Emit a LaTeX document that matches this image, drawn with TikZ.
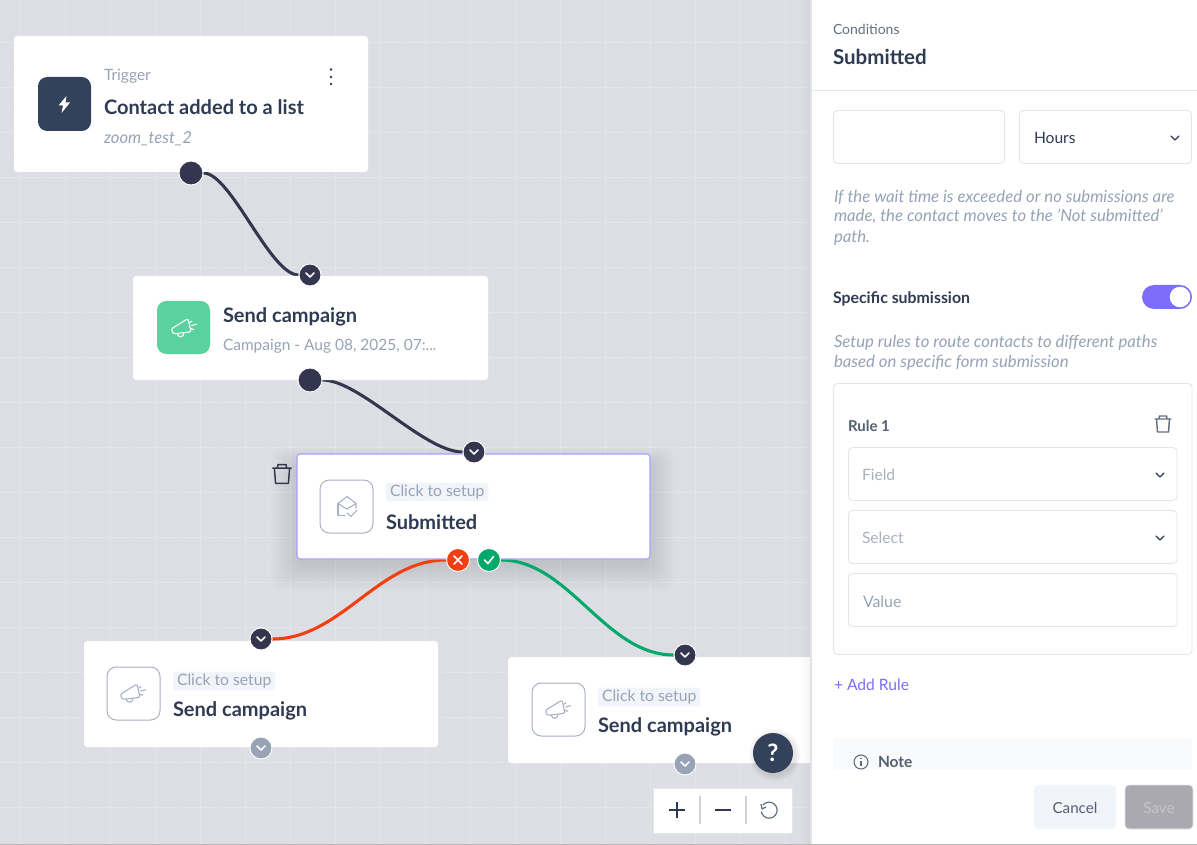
\documentclass[tikz,border=0pt]{standalone}
\usepackage{fontspec}
\setmainfont{Lato}
\usetikzlibrary{calc}
\definecolor{bgc}{HTML}{DDDEE3}
\definecolor{gridmaj}{HTML}{E4E5E9}
\definecolor{gridmin}{HTML}{DFE0E5}
\definecolor{portc}{HTML}{343650}
\definecolor{inkc}{HTML}{2F3B52}
\definecolor{slatec}{HTML}{33415A}
\definecolor{greyt}{HTML}{97A3B6}
\definecolor{midt}{HTML}{64707F}
\definecolor{mint}{HTML}{5AD2A0}
\definecolor{redc}{HTML}{F23F12}
\definecolor{greenc}{HTML}{00A86B}
\definecolor{purp}{HTML}{7C6DFB}
\definecolor{purpb}{HTML}{A79FFD}
\definecolor{chip}{HTML}{F1F4F8}
\definecolor{lineb}{HTML}{E2E6EC}
\definecolor{portg}{HTML}{98A4B6}
\definecolor{iconb}{HTML}{A6B1C3}
\definecolor{savef}{HTML}{ABA9B0}
\definecolor{savet}{HTML}{C6C5CB}
\pgfdeclarelayer{under}
\pgfdeclarelayer{links}
\pgfsetlayers{under,links,main}
\tikzset{
 x=0.75pt,y=-0.75pt,
 card/.style={fill=white,rounded corners=2.5pt,draw=none},
 panelbox/.style={fill=white,draw=lineb,line width=0.7pt,rounded corners=3pt},
 iconbox/.style={draw=iconb,line width=0.75pt,fill=white,rounded corners=7pt},
 port/.style={circle,draw=white,line width=0.7pt,fill=portc,minimum size=#1*0.75pt,inner sep=0pt},
 gport/.style={circle,draw=white,line width=0.7pt,fill=portg,minimum size=22*0.75pt,inner sep=0pt},
 chev/.style={draw=white,line width=1.2pt,line cap=round,line join=round},
 chevd/.style={draw=inkc,line width=0.9pt,line cap=round,line join=round},
 link/.style={line width=2.3pt,draw=portc},
 txt/.style={anchor=base west,inner sep=0pt,outer sep=0pt},
 ctxt/.style={anchor=base,inner sep=0pt,outer sep=0pt},
 chiplabel/.style={txt,text=greyt,font=\fontsize{11.8}{13}\selectfont,fill=chip,rounded corners=2pt,text depth=3.4pt,text height=9.4pt,inner xsep=3pt,inner ysep=0.6pt},
 cardtitle/.style={txt,text=inkc,font=\fontsize{15}{18}\bfseries\selectfont},
 hint/.style={txt,text=greyt,font=\fontsize{12.55}{13}\itshape\selectfont},
 icl/.style={draw=#1,line width=0.8pt,line cap=round,line join=round,fill=none},
 megaphone/.pic={
  \draw[icl=#1] (-11.3,0.5) -- (2.5,-8) .. controls (3.5,-8.6) and (4,-8.2) .. (4.3,-7.6) -- (6.8,3) .. controls (7,4) and (6.5,4.5) .. (5.5,4.5) -- (-9,6.2) .. controls (-12,6.4) and (-13,1.5) .. (-11.3,0.5);
  \draw[icl=#1] (-7,6) .. controls (-6,10.5) and (0,10.5) .. (0,5.2);
  \draw[icl=#1] (6,-5) -- (8,-6.3) (7.7,-2) -- (12.7,-3.3) (7,1) -- (9.7,2.3);
 },
 trashcan/.pic={
  \draw[icl=#1,line width=1.1pt] (-8,-5) -- (8,-5) (-6.5,-5) -- (-5.5,8) -- (5.5,8) -- (6.5,-5) (-4,-5) -- (-3.5,-8) -- (3.5,-8) -- (4,-5);
 },
}
\begin{document}
\begin{tikzpicture}
\useasboundingbox (0,0) rectangle (1197,845);
\begin{pgfonlayer}{under}
 \fill[bgc] (0,0) rectangle (1197,845);
 \foreach \i in {0,...,38} {
  \draw[gridmin,line width=0.4pt] ({-2.5+22.5*\i},0) -- ({-2.5+22.5*\i},845);
  \draw[gridmin,line width=0.4pt] (0,{-3+22.5*\i}) -- (811,{-3+22.5*\i});
 }
 \foreach \i in {0,...,19} {
  \draw[gridmaj,line width=0.6pt] ({20+45*\i},0) -- ({20+45*\i},845);
  \draw[gridmaj,line width=0.6pt] (0,{-3+45*\i}) -- (811,{-3+45*\i});
 }
 % shadow of the selected card
 \foreach \k in {1,...,28} {
  \fill[black,opacity=0.0045,rounded corners=9pt] ({299-\k},{464-0.6*\k}) rectangle ({648+\k},{563+\k});
 }
\end{pgfonlayer}

% cards
\path[card] (14,36) rectangle (368,172);
\path[card] (133,276) rectangle (488,380);
\path[fill=white,draw=purpb,line width=0.8pt,rounded corners=2.5pt] (297,454) rectangle (650,559);
\path[card] (84,641) rectangle (438,747);
\path[card] (508,657) rectangle (830,763);

% icon squares
\path[fill=slatec,rounded corners=7pt] (38,77) rectangle (91,131);
\fill[white] (66.5,96) -- (58.5,105.5) -- (63,105.5) -- (61.5,113) -- (70,102.5) -- (65.5,102.5) -- cycle;
\path[fill=mint,rounded corners=7pt] (157,301) rectangle (210,354);
\pic at (184,327.5) {megaphone=white};
\path[iconbox] (320,480) rectangle (373,533);
\draw[icl=iconb] (338,503.5) -- (347,496.5) -- (356,503.5) -- (356,508);
\draw[icl=iconb] (338,503.5) -- (347,509) -- (356,503.5);
\draw[icl=iconb] (338,503.5) -- (338,515.5) -- (345,515.5);
\draw[icl=iconb] (347,513) -- (351,516.5) -- (357,510);
\path[iconbox] (107,667) rectangle (160,720);
\pic at (133,693) {megaphone=iconb};
\path[iconbox] (532,683) rectangle (585,736);
\pic at (558,709) {megaphone=iconb};

% card text
\node[txt,text=greyt,font=\fontsize{11.7}{13}\selectfont] (t1) at (104,81) {Trigger};
\node[cardtitle] (t2) at (104,114.5) {Contact added to a list};
\node[txt,text=greyt,font=\fontsize{12.5}{13}\itshape\selectfont] (t3) at (104,144) {zoom\_test\_2};
\fill[portc] (331,69.5) circle (1.3) (331,77) circle (1.3) (331,84) circle (1.3);
\node[cardtitle] (s1) at (223,322) {Send campaign};
\node[txt,text=greyt,font=\fontsize{11.6}{13}\selectfont] (s2) at (223,350) {Campaign - Aug 08, 2025, 07:...};
\node[chiplabel] (c1) at (386,496) {Click to setup};
\node[cardtitle] (c2) at (386,529) {Submitted};
\node[chiplabel] (l1) at (173,685) {Click to setup};
\node[cardtitle] (l2) at (173,716) {Send campaign};
\node[chiplabel] (r1) at (598,701) {Click to setup};
\node[cardtitle] (r2) at (598,732) {Send campaign};
\pic[scale=1.17] at (282,474) {trashcan=portc};

% ports
\node[port=24] (p1) at (191,173) {};
\node[port=22] (p2) at (310,275) {};
\node[port=24] (p3) at (310,380) {};
\node[port=22] (p4) at (474,452) {};
\node[port=23,fill=redc] (pno) at (458,560) {};
\node[port=23,fill=greenc] (pyes) at (489,560) {};
\node[port=22] (p5) at (261,639) {};
\node[gport] (p6) at (261,748) {};
\node[port=22] (p7) at (685,655) {};
\node[gport] (p8) at (685,764) {};
\foreach \n in {p2,p4,p5,p6,p7,p8} \draw[chev] (\n) +(-4,-2) -- +(0,2) -- +(4,-2);
\draw[chev] (pno) +(-4,-4) -- +(4,4) +(4,-4) -- +(-4,4);
\draw[chev] (pyes) +(-4.5,0) -- +(-1,3.5) -- +(4.5,-3.5);

% connectors
\begin{pgfonlayer}{links}
 \draw[link] (p1) .. controls ($(p1)+(40,0)$) and ($(p2)+(-40,0)$) .. (p2);
 \draw[link] (p3) .. controls ($(p3)+(50,0)$) and ($(p4)+(-50,0)$) .. (p4);
 \draw[link,draw=redc] (pno) .. controls ($(pno)+(-80,0)$) and ($(p5)+(80,0)$) .. (p5);
 \draw[link,draw=greenc] (pyes) .. controls ($(pyes)+(80,0)$) and ($(p7)+(-80,0)$) .. (p7);
\end{pgfonlayer}

% help and zoom
\foreach \k in {1,...,5} \fill[black,opacity=0.02] (775,755) circle ({20+1.2*\k});
\node[circle,fill=slatec,minimum size=30pt,inner sep=0pt,text=white,font=\fontsize{18}{20}\bfseries\selectfont] (help) at (773,753) {?};
\path[fill=white,draw=lineb,line width=0.7pt] (653.5,788) rectangle (792.5,833);
\draw[chevd,line width=1pt,line cap=butt] (669,810) -- (685,810) (677,802) -- (677,818);
\draw[chevd,line width=1pt,line cap=butt] (715,810) -- (731,810);
\draw[draw=lineb!80!gray,line width=0.8pt] (700,796) -- (700,824) (746,796) -- (746,824);
\draw[draw=midt,line width=0.9pt] (763,805) arc[start angle=-140,end angle=170,radius=8];
\draw[draw=midt,line width=0.9pt,line join=round] (761,804) -- (762,809) -- (766,807);

% side panel
\foreach \k in {1,...,5} \fill[black,opacity=0.008] ({811-2*\k},0) rectangle (811,845);
\fill[white] (811,0) rectangle (1197,845);
\draw[draw=lineb!70!bgc,line width=0.8pt] (811,0) -- (811,845);
\node[txt,text=midt,font=\fontsize{10.5}{13}\selectfont] (pa) at (833,34.5) {Conditions};
\node[txt,text=inkc,font=\fontsize{15.4}{18}\bfseries\selectfont] (pb) at (833,64.5) {Submitted};
\draw[lineb,line width=0.7pt] (811,90) -- (1197,90);
\path[panelbox] (833.5,110.5) rectangle (1004.5,163.5);
\path[panelbox] (1019.5,110.5) rectangle (1191.5,163.5);
\node[txt,text=inkc,font=\fontsize{11.7}{14}\selectfont] (ph) at (1034,143.5) {Hours};
\coordinate (ch1) at (1175,138);
\draw[chevd] (ch1) +(-4,-2) -- +(0,2) -- +(4,-2);
\node[hint] (h1) at (834,202.5) {If the wait time is exceeded or no submissions are};
\node[hint] (h2) at (834,222) {made, the contact moves to the 'Not submitted'};
\node[hint] (h3) at (834,243) {path.};
\node[txt,text=inkc,font=\fontsize{11.9}{14}\bfseries\selectfont] (ss) at (833,303.5) {Specific submission};
\path[fill=purp,rounded corners=9pt] (1142,285) rectangle (1192,309);
\fill[white] (1180,297) circle (10.3);
\node[hint] (h4) at (834,347.5) {Setup rules to route contacts to different paths};
\node[hint] (h5) at (834,368) {based on specific form submission};
\path[panelbox] (833.5,383.5) rectangle (1192,654.5);
\node[txt,text=midt!70!inkc,font=\fontsize{11.25}{14}\bfseries\selectfont] (r) at (848,431) {Rule 1};
\pic at (1163,424) {trashcan=midt};
\path[panelbox] (848.5,447.5) rectangle (1177,500.5);
\path[panelbox] (848.5,510.5) rectangle (1177,563.5);
\path[panelbox] (848.5,573.5) rectangle (1177,626.5);
\node[txt,text=greyt!85!white,font=\fontsize{11.7}{14}\selectfont] (f1) at (862,480) {Field};
\node[txt,text=greyt!85!white,font=\fontsize{11.7}{14}\selectfont] (f2) at (862,543) {Select};
\node[txt,text=greyt,font=\fontsize{11.9}{14}\selectfont] (f3) at (863,607) {Value};
\coordinate (ch2) at (1160,475);
\coordinate (ch3) at (1160,538);
\draw[chevd] (ch2) +(-4,-2) -- +(0,2) -- +(4,-2);
\draw[chevd] (ch3) +(-4,-2) -- +(0,2) -- +(4,-2);
\node[txt,text=purp,font=\fontsize{11.7}{14}\selectfont] (add) at (834,690) {+ Add Rule};
\path[fill=chip!50!white,rounded corners=3pt] (833,738) rectangle (1192,780);
\fill[white] (825,769) rectangle (1197,843);
\draw[midt!90!inkc,line width=0.8pt] (861,762) circle (7);
\draw[midt!90!inkc,line width=0.9pt] (861,761) -- (861,766) (861,758) -- (861,758.8);
\node[txt,text=midt!70!inkc,font=\fontsize{11.6}{14}\bfseries\selectfont] (note) at (878,767.5) {Note};
\path[fill=chip,rounded corners=3pt] (1034,785) rectangle (1116,829);
\node[ctxt,text=midt!70!inkc,font=\fontsize{11.4}{14}\selectfont] (cancel) at (1075,813) {Cancel};
\path[fill=savef,draw=lineb,line width=0.5pt,rounded corners=3pt] (1125,785) rectangle (1193,829);
\node[ctxt,text=savet,font=\fontsize{11.4}{14}\selectfont] (save) at (1159,813) {Save};
\fill[black!28] (0,843.5) rectangle (1197,845);
\end{tikzpicture}
\end{document}
